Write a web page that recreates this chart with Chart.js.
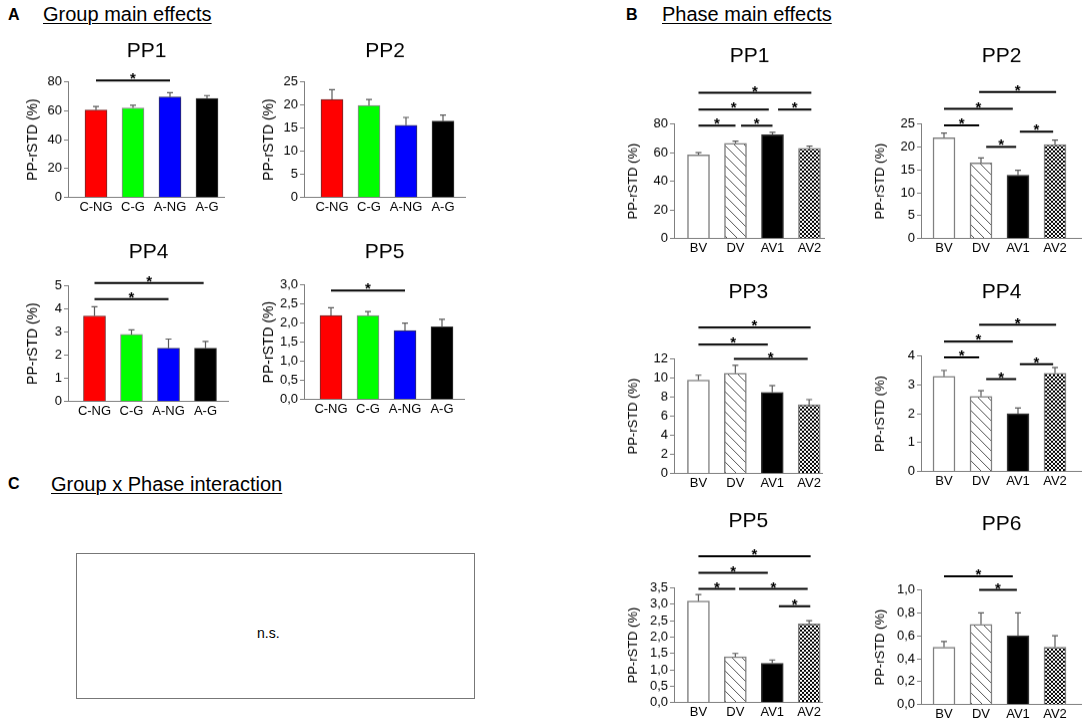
<!DOCTYPE html>
<html>
<head>
<meta charset="utf-8">
<script src="https://cdn.jsdelivr.net/npm/chart.js@4.4.1/dist/chart.umd.min.js"></script>
<style>
  body { margin: 0; background: #fff; width: 1084px; height: 726px; position: relative; overflow: hidden;
         font-family: 'Liberation Sans', Arial, sans-serif; color: #000; }
  .panel { position: absolute; }
  .letter { position: absolute; font-weight: bold; font-size: 16px; line-height: 16px; }
  .head { position: absolute; font-size: 20px; line-height: 20px; text-decoration: underline;
          text-underline-offset: 2px; text-decoration-thickness: 1px; white-space: nowrap; }
  #nsBox { position: absolute; left: 76px; top: 553px; width: 397px; height: 144px; border: 1px solid #777; }
  #ns { position: absolute; left: 257px; top: 625px; font-size: 14px; line-height: 16px; }
</style>
</head>
<body>
<div class="letter" style="left:8px;top:7px">A</div>
<div class="head" style="left:43px;top:4px">Group main effects</div>
<div class="letter" style="left:626px;top:7px">B</div>
<div class="head" style="left:662px;top:4px">Phase main effects</div>
<div class="letter" style="left:8px;top:476px">C</div>
<div class="head" style="left:51px;top:474px">Group x Phase interaction</div>
<div id="nsBox"></div>
<div id="ns">n.s.</div>

<script>
// categories
const groups = ['C-NG', 'C-G', 'A-NG', 'A-G'];
const phases = ['BV', 'DV', 'AV1', 'AV2'];

// panel A: group main effects (mean, SE)
const groupPP1 = [60.5, 62, 69.5, 68.5];
const groupPP1Err = [2.5, 1.8, 3, 2];
const groupPP2 = [21.2, 19.9, 15.6, 16.5];
const groupPP2Err = [2.1, 1.3, 1.7, 1.3];
const groupPP4 = [3.7, 2.9, 2.3, 2.3];
const groupPP4Err = [0.4, 0.2, 0.4, 0.3];
const groupPP5 = [2.2, 2.2, 1.8, 1.9];
const groupPP5Err = [0.2, 0.1, 0.2, 0.2];

// panel B: phase main effects (mean, SE)
const phasePP1 = [58.5, 66.5, 72.5, 63];
const phasePP1Err = [1.5, 1.6, 1.7, 1.6];
const phasePP2 = [22, 16.5, 13.8, 20.5];
const phasePP2Err = [1.0, 1.1, 1.1, 1.0];
const phasePP3 = [9.8, 10.5, 8.5, 7.2];
const phasePP3Err = [0.5, 0.85, 0.7, 0.55];
const phasePP4 = [3.3, 2.6, 2.0, 3.4];
const phasePP4Err = [0.2, 0.2, 0.2, 0.2];
const phasePP5 = [3.1, 1.4, 1.2, 2.4];
const phasePP5Err = [0.2, 0.1, 0.1, 0.1];
const phasePP6 = [0.5, 0.7, 0.6, 0.5];
const phasePP6Err = [0.05, 0.1, 0.2, 0.1];

// significance bars: [from category, to category, height in axis units]
const groupPP1Sig = [[0, 2, 81]];
const groupPP2Sig = [];
const groupPP4Sig = [[0, 2, 4.43], [0, 2.95, 5.12]];
const groupPP5Sig = [[0, 2, 2.85]];
const phasePP1Sig = [[0, 1, 78.8], [1.15, 2, 78.8], [0, 1.9, 90], [2.15, 3.05, 90], [0, 3.05, 101.8]];
const phasePP2Sig = [[0, 0.95, 24.7], [1.14, 1.95, 20.0], [0, 1.86, 28.3], [2.05, 2.95, 23.3], [0.95, 3.03, 32]];
const phasePP3Sig = [[0, 1.88, 13.5], [0, 3.04, 15.3], [0.96, 2.96, 12.0]];
const phasePP4Sig = [[0, 0.95, 3.95], [1.14, 1.95, 3.2], [0, 1.86, 4.5], [2.05, 2.95, 3.72], [0.95, 3.03, 5.08]];
const phasePP5Sig = [[0, 1, 3.47], [1.1, 2.96, 3.47], [2.18, 3.03, 2.94], [0, 1.88, 3.96], [0, 3.04, 4.47]];
const phasePP6Sig = [[0, 1.86, 1.12], [0.95, 1.97, 1.0]];

// y-axis ranges
const yMaxA = { PP1: 80, PP2: 25, PP4: 5, PP5: 3 };
const yStepA = { PP1: 20, PP2: 5, PP4: 1, PP5: 0.5 };
const yMaxB = { PP1: 80, PP2: 25, PP3: 12, PP4: 4, PP5: 3.5, PP6: 1 };
const yStepB = { PP1: 20, PP2: 5, PP3: 2, PP4: 1, PP5: 0.5, PP6: 0.2 };

Chart.defaults.font.family = "'Liberation Sans', Arial, sans-serif";
Chart.defaults.color = '#000';

const AXIS = '#7f7f7f';
const Y_W = 50, X_H = 26, UNIT = 37;

function hatchPattern() {
  const c = document.createElement('canvas');
  c.width = c.height = 10;
  const g = c.getContext('2d');
  g.fillStyle = '#fff';
  g.fillRect(0, 0, 10, 10);
  g.strokeStyle = '#555';
  g.lineWidth = 1;
  g.beginPath();
  g.moveTo(0, 0); g.lineTo(10, 10);
  g.moveTo(-2, 8); g.lineTo(2, 12);
  g.moveTo(8, -2); g.lineTo(12, 2);
  g.stroke();
  return g.createPattern(c, 'repeat');
}

function checkerPattern() {
  const c = document.createElement('canvas');
  c.width = c.height = 4;
  const g = c.getContext('2d');
  g.fillStyle = '#fff';
  g.fillRect(0, 0, 4, 4);
  g.fillStyle = '#000';
  g.fillRect(0, 0, 2, 2);
  g.fillRect(2, 2, 2, 2);
  return g.createPattern(c, 'repeat');
}

// error bars and significance lines
function marks(errs, sig) {
  return {
    id: 'marks',
    afterDatasetsDraw(chart) {
      const { ctx } = chart;
      const x = chart.scales.x, y = chart.scales.y;
      const pts = chart.data.datasets[0].data;
      ctx.save();
      ctx.strokeStyle = '#5a5a5a';
      ctx.lineWidth = 1.2;
      chart.getDatasetMeta(0).data.forEach((bar, i) => {
        const top = y.getPixelForValue(pts[i].y + errs[i]);
        ctx.beginPath();
        ctx.moveTo(bar.x, bar.y);
        ctx.lineTo(bar.x, top);
        ctx.moveTo(bar.x - 3, top);
        ctx.lineTo(bar.x + 3, top);
        ctx.stroke();
      });
      ctx.strokeStyle = '#000';
      ctx.fillStyle = '#000';
      ctx.lineWidth = 2;
      ctx.font = "bold 15px 'Liberation Sans', Arial";
      ctx.textAlign = 'center';
      ctx.textBaseline = 'alphabetic';
      sig.forEach(([a, b, v]) => {
        const x1 = x.getPixelForValue(a), x2 = x.getPixelForValue(b), yy = y.getPixelForValue(v);
        ctx.beginPath();
        ctx.moveTo(x1, yy);
        ctx.lineTo(x2, yy);
        ctx.stroke();
        ctx.fillText('*', (x1 + x2) / 2, yy + 3);
      });
      ctx.restore();
    }
  };
}

function drawPanel(p) {
  const div = document.createElement('div');
  div.className = 'panel';
  const left = p.left - Y_W, top = p.titleY - 12.6;
  div.style.left = left + 'px';
  div.style.top = top + 'px';
  div.style.width = (p.right - left) + 'px';
  div.style.height = (p.bottom + X_H - top) + 'px';
  const cv = document.createElement('canvas');
  div.appendChild(cv);
  document.body.appendChild(div);

  const cats = p.cats;
  const tSize = p.group ? 14 : 13;
  new Chart(cv, {
    type: 'bar',
    data: {
      datasets: [{
        data: p.vals.map((v, i) => ({ x: i, y: v })),
        backgroundColor: p.colors,
        borderColor: p.borders,
        borderWidth: p.group ? 1 : 1.5,
        barThickness: 22
      }]
    },
    options: {
      responsive: true,
      maintainAspectRatio: false,
      animation: false,
      layout: { padding: 0 },
      plugins: {
        legend: { display: false },
        tooltip: { enabled: false },
        title: {
          display: true, text: p.title, fullSize: false,
          font: { size: 21, weight: 'normal' }, color: '#000',
          padding: { top: 0, bottom: p.top - p.titleY - 12.6 }
        }
      },
      scales: {
        x: {
          type: 'linear', offset: false,
          min: -p.first / UNIT, max: (p.right - p.left - p.first) / UNIT,
          afterBuildTicks: s => { s.ticks = cats.map((c, i) => ({ value: i })); },
          afterFit: s => { s.height = X_H; },
          grid: { display: false, drawTicks: false },
          border: { display: true, color: AXIS, width: 1 },
          ticks: { callback: v => cats[v], font: { size: 13 }, padding: 2, autoSkip: false, maxRotation: 0, color: '#000' }
        },
        y: {
          min: 0, max: p.yMax,
          afterFit: s => { s.width = Y_W; },
          grid: { drawOnChartArea: false, drawTicks: true, tickLength: 4, color: AXIS },
          border: { display: true, color: AXIS, width: 1 },
          ticks: {
            stepSize: p.step, font: { size: 13 }, padding: 2, color: '#000', autoSkip: false,
            callback: v => p.comma ? v.toFixed(1).replace('.', ',') : v
          },
          title: {
            display: true, text: 'PP-rSTD (%)', color: '#000',
            font: { size: tSize },
            padding: { top: Y_W - p.yGap - tSize * 0.6, bottom: 0 }
          }
        }
      }
    },
    plugins: [marks(p.errs, p.sig)]
  });
}

const groupColors = ['#ff0000', '#00ff00', '#0000ff', '#000000'];
const groupBorders = ['#6a2a2a', '#9a7a9a', '#30305a', '#333333'];
const phaseColors = ['#ffffff', hatchPattern(), '#000000', checkerPattern()];
const phaseBorders = ['#808080', '#808080', '#333333', '#808080'];

const A = { group: true, cats: groups, colors: groupColors, borders: groupBorders, yGap: 35 };
const B = { group: false, cats: phases, colors: phaseColors, borders: phaseBorders, yGap: 41 };

[
  { ...A, title: 'PP1', vals: groupPP1, errs: groupPP1Err, sig: groupPP1Sig, yMax: yMaxA.PP1, step: yStepA.PP1,
    left: 68, right: 225, top: 82, bottom: 197, titleY: 52, first: 28 },
  { ...A, title: 'PP2', vals: groupPP2, errs: groupPP2Err, sig: groupPP2Sig, yMax: yMaxA.PP2, step: yStepA.PP2,
    left: 304, right: 466, top: 82, bottom: 197, titleY: 52, first: 28 },
  { ...A, title: 'PP4', vals: groupPP4, errs: groupPP4Err, sig: groupPP4Sig, yMax: yMaxA.PP4, step: yStepA.PP4,
    left: 68, right: 229, top: 286, bottom: 401, titleY: 253, first: 26.5 },
  { ...A, title: 'PP5', vals: groupPP5, errs: groupPP5Err, sig: groupPP5Sig, yMax: yMaxA.PP5, step: yStepA.PP5, comma: true,
    left: 304, right: 465, top: 285, bottom: 399, titleY: 253, first: 27 },

  { ...B, title: 'PP1', vals: phasePP1, errs: phasePP1Err, sig: phasePP1Sig, yMax: yMaxB.PP1, step: yStepB.PP1,
    left: 674, right: 825, top: 124, bottom: 238, titleY: 57, first: 24.5 },
  { ...B, title: 'PP2', vals: phasePP2, errs: phasePP2Err, sig: phasePP2Sig, yMax: yMaxB.PP2, step: yStepB.PP2,
    left: 921, right: 1082, top: 124, bottom: 238, titleY: 57, first: 23 },
  { ...B, title: 'PP3', vals: phasePP3, errs: phasePP3Err, sig: phasePP3Sig, yMax: yMaxB.PP3, step: yStepB.PP3,
    left: 674, right: 823, top: 359, bottom: 473, titleY: 293, first: 24.5 },
  { ...B, title: 'PP4', vals: phasePP4, errs: phasePP4Err, sig: phasePP4Sig, yMax: yMaxB.PP4, step: yStepB.PP4,
    left: 921, right: 1082, top: 356, bottom: 471, titleY: 293, first: 23 },
  { ...B, title: 'PP5', vals: phasePP5, errs: phasePP5Err, sig: phasePP5Sig, yMax: yMaxB.PP5, step: yStepB.PP5, comma: true,
    left: 674, right: 823, top: 588, bottom: 702, titleY: 522, first: 24.5 },
  { ...B, title: 'PP6', vals: phasePP6, errs: phasePP6Err, sig: phasePP6Sig, yMax: yMaxB.PP6, step: yStepB.PP6, comma: true,
    left: 921, right: 1082, top: 590, bottom: 704, titleY: 525, first: 23 }
].forEach(drawPanel);
</script>
</body>
</html>
